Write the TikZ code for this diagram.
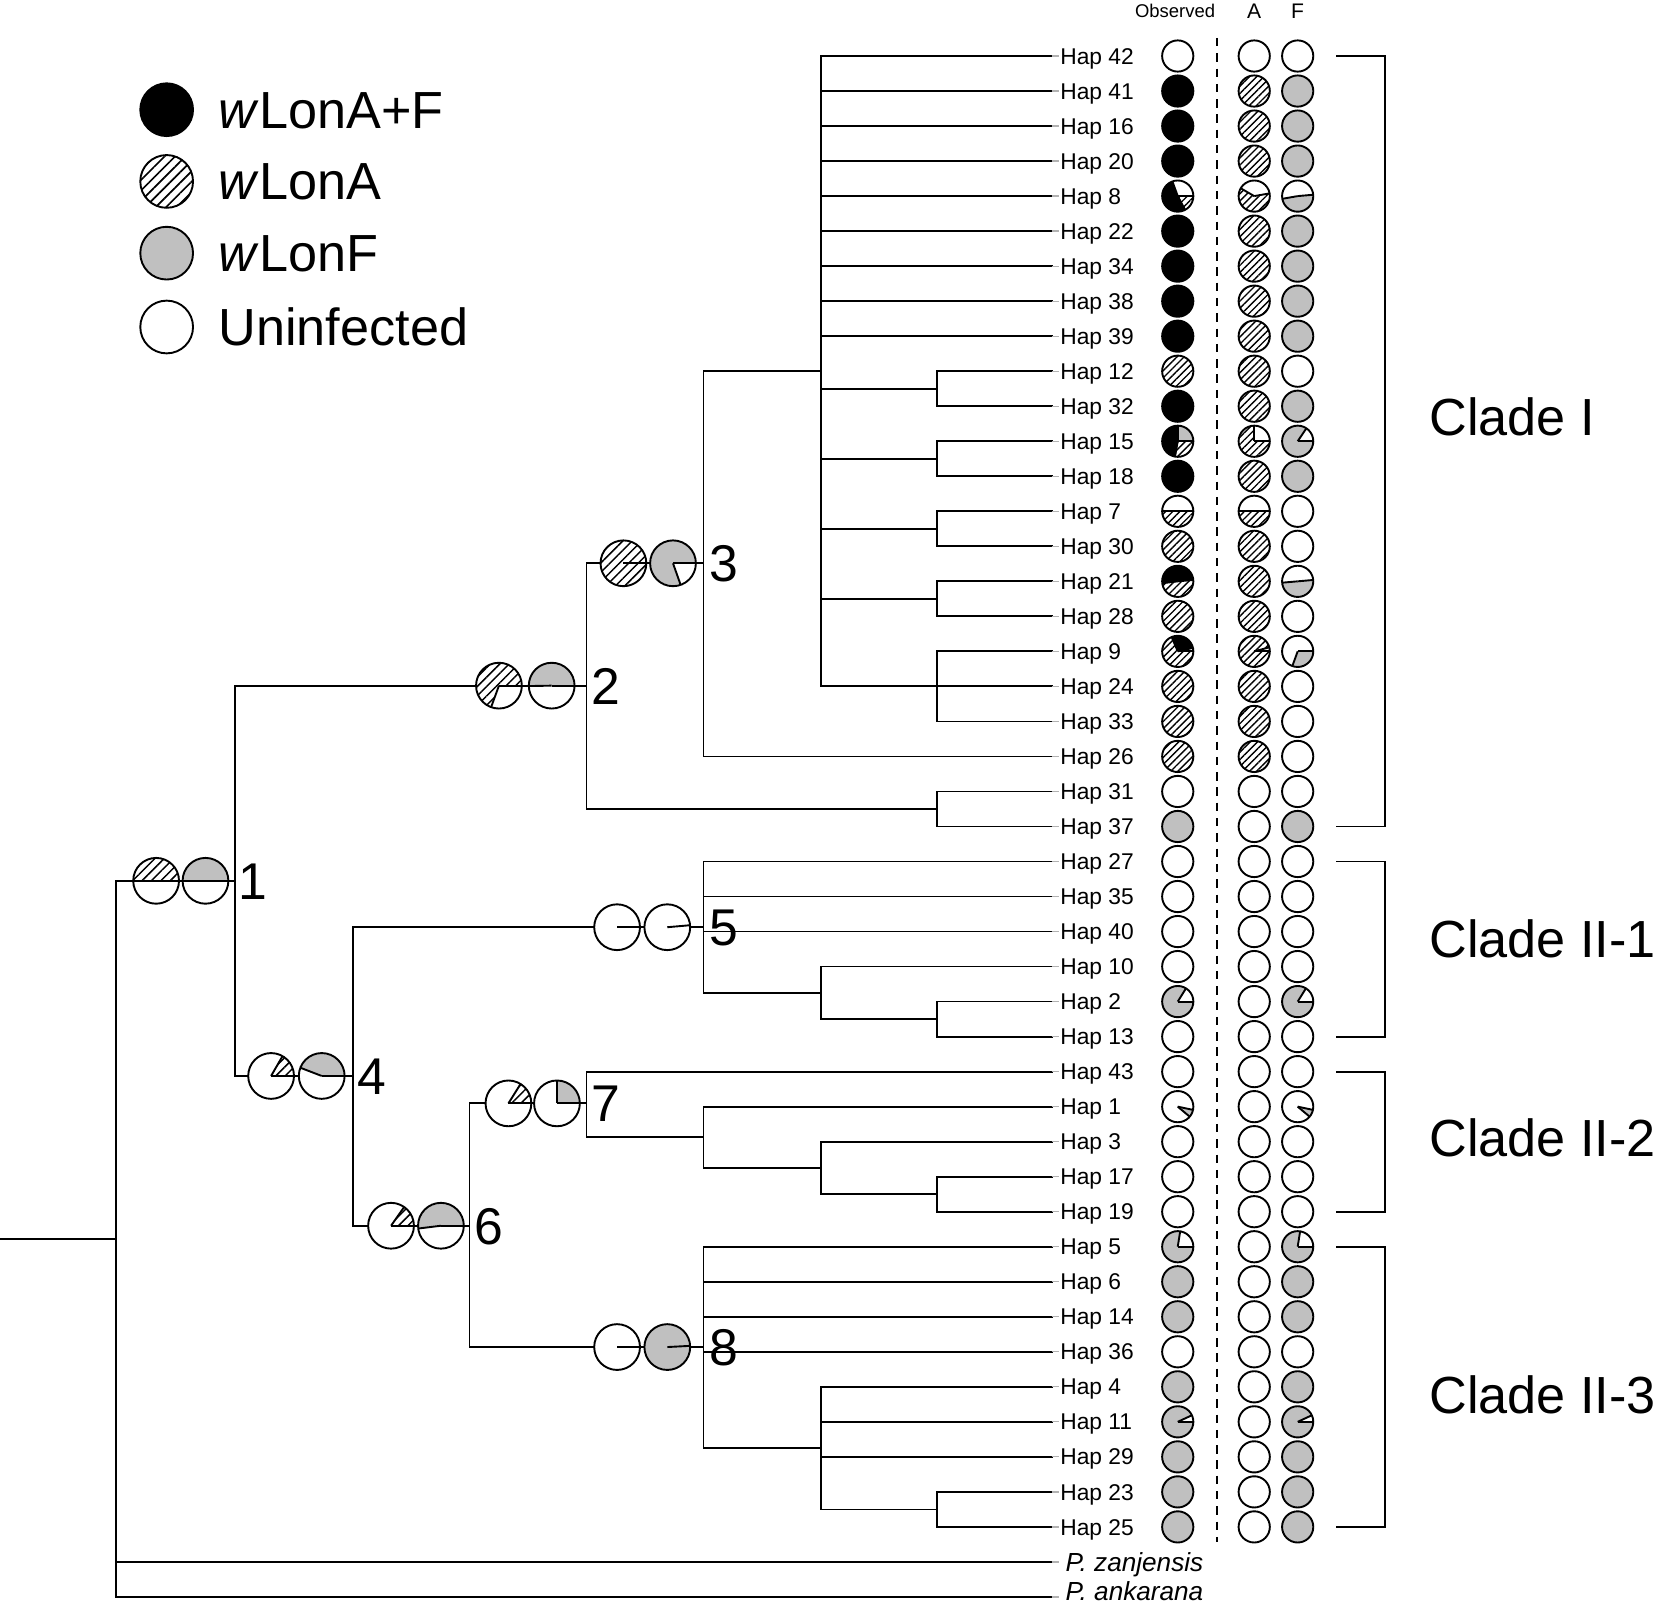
\documentclass[tikz,border=0pt]{standalone}
\usepackage{fontspec}
\setmainfont{Liberation Sans}
\usetikzlibrary{patterns.meta}
\definecolor{pgray}{RGB}{192,192,192}
\newcommand\Y[1]{\csname yy#1\endcsname}
\newcommand\fs[1]{\fontsize{#1}{#1}\selectfont}
\newcommand\FC[4]{\fill[white] (#1,#2) circle[radius=#3]; \fill[#4] (#1,#2) circle[radius=#3]; \draw[pieline] (#1,#2) circle[radius=#3];}
\newcommand\PIE[4]{%
  \fill[white] (#1,#2) circle[radius=#3];
  \foreach \s/\a/\b in {#4}{\fill[\s] (#1,#2) -- ++(\a:#3) arc[start angle=\a, end angle=\b, radius=#3] -- cycle;}
  \foreach \s/\a/\b in {#4}{\draw[pieline] (#1,#2) -- ++(\a:#3);}
  \draw[pieline] (#1,#2) circle[radius=#3];}
\newcommand\HL[3]{\draw[brl] (#1,{-(#3)}) -- (#2,{-(#3)});}
\newcommand\VL[3]{\draw[brl] (#1,{-(#2)}) -- (#1,{-(#3)});}
\newcommand\TIP[2]{\draw[brl] (#1,-\Y{#2}) -- (997,-\Y{#2}); \draw[lead] (997,-\Y{#2}) -- (1004,-\Y{#2});}
\newcommand\MID[2]{(\Y{#1}+\Y{#2})/2}
\begin{document}
\begin{tikzpicture}[x=1pt,y=1pt,
  brl/.style={line width=1.7pt, line cap=rect},
  lead/.style={line width=1.2pt, gray!60},
  pieline/.style={line width=1.8pt},
  blk/.style={fill=black}, gry/.style={fill=pgray}, wht/.style={fill=white},
  hatT/.style={pattern={Lines[angle=45,distance=4.8pt,line width=1.3pt]}},
  hatN/.style={pattern={Lines[angle=45,distance=6.3pt,line width=1.4pt]}},
  hatL/.style={pattern={Lines[angle=45,distance=7pt,line width=1.6pt]}},
  hap/.style={font=\fs{21.6}, anchor=base west, inner sep=0pt},
  spc/.style={font=\fs{24.8}\itshape, anchor=base west, inner sep=0pt},
  num/.style={font=\fs{49}, anchor=base west, inner sep=0pt},
  big/.style={font=\fs{49.5}, anchor=base west, inner sep=0pt},
  head/.style={anchor=base, inner sep=0pt}]
\useasboundingbox (0,0) rectangle (1568,-1522);
\foreach \n [count=\i] in {42,41,16,20,8,22,34,38,39,12,32,15,18,7,30,21,28,9,24,33,26,31,37,27,35,40,10,2,13,43,1,3,17,19,5,6,14,36,4,11,29,23,25,pz,pa}{
  \pgfmathsetmacro\tmp{53.1+33.2*(\i-1)}
  \expandafter\xdef\csname yy\n\endcsname{\tmp}}
% ---------- tree ----------
\HL{0}{110}{1174.5}
\VL{110}{835}{\Y{pa}}
\HL{110}{223}{835}
\TIP{110}{pz} \TIP{110}{pa}
\VL{223}{650}{1020}
% node 2
\HL{223}{556}{650}
\VL{556}{534}{\MID{31}{37}}
\HL{556}{888}{\MID{31}{37}}
\VL{888}{\Y{31}}{\Y{37}}
\TIP{888}{31} \TIP{888}{37}
% node 3
\HL{556}{667}{534}
\VL{667}{\Y{12}}{\Y{26}}
\HL{667}{778}{\Y{12}}
\TIP{667}{26}
\VL{778}{\Y{42}}{\Y{24}}
\foreach \n in {42,41,16,20,8,22,34,38,39}{\TIP{778}{\n}}
\foreach \a/\b in {12/32,15/18,7/30,21/28}{
  \HL{778}{888}{\MID{\a}{\b}} \VL{888}{\Y{\a}}{\Y{\b}} \TIP{888}{\a} \TIP{888}{\b}}
\HL{778}{888}{\Y{24}} \VL{888}{\Y{9}}{\Y{33}}
\TIP{888}{9} \TIP{888}{24} \TIP{888}{33}
% node 4
\HL{223}{335}{1020}
\VL{335}{879}{1162}
% node 5
\HL{335}{667}{879}
\VL{667}{\Y{27}}{941.2}
\TIP{667}{27} \TIP{667}{35} \TIP{667}{40}
\HL{667}{778}{941.2}
\VL{778}{\Y{10}}{\MID{2}{13}}
\TIP{778}{10}
\HL{778}{888}{\MID{2}{13}}
\VL{888}{\Y{2}}{\Y{13}}
\TIP{888}{2} \TIP{888}{13}
% node 6
\HL{335}{445}{1162}
\VL{445}{1046}{1277}
% node 7
\HL{445}{556}{1046}
\VL{556}{\Y{43}}{1078.2}
\TIP{556}{43}
\HL{556}{667}{1078.2}
\VL{667}{\Y{1}}{1107.2}
\TIP{667}{1}
\HL{667}{778}{1107.2}
\VL{778}{\Y{3}}{\MID{17}{19}}
\TIP{778}{3}
\HL{778}{888}{\MID{17}{19}}
\VL{888}{\Y{17}}{\Y{19}}
\TIP{888}{17} \TIP{888}{19}
% node 8
\HL{445}{667}{1277}
\VL{667}{\Y{5}}{1372.8}
\foreach \n in {5,6,14,36}{\TIP{667}{\n}}
\HL{667}{778}{1372.8}
\VL{778}{\Y{4}}{\MID{23}{25}}
\TIP{778}{4} \TIP{778}{11} \TIP{778}{29}
\HL{778}{888}{\MID{23}{25}}
\VL{888}{\Y{23}}{\Y{25}}
\TIP{888}{23} \TIP{888}{25}
% ---------- node pies ----------
\PIE{148}{-835}{21.7}{hatN/0/180, wht/180/360}
\PIE{194.8}{-835}{21.7}{gry/0/180, wht/180/360}
\PIE{473}{-650}{21.7}{hatN/0/250, wht/250/360}
\PIE{523}{-650}{21.7}{gry/0/181, wht/181/360}
\PIE{591}{-534}{21.7}{hatN/0/360}
\PIE{638}{-534}{21.7}{gry/0/289.5, wht/289.5/360}
\PIE{257}{-1020}{21.7}{hatN/0/60, wht/60/360}
\PIE{305}{-1020}{21.7}{gry/0/159, wht/159/360}
\PIE{585}{-879}{21.7}{wht/0/360}
\PIE{632.6}{-879}{21.7}{wht/5/365}
\PIE{370.7}{-1162}{21.7}{hatN/0/55, wht/55/360}
\PIE{418}{-1162}{21.7}{gry/0/187, wht/187/360}
\PIE{482}{-1046}{21.7}{hatN/0/58, wht/58/360}
\PIE{528}{-1046}{21.7}{gry/0/90, wht/90/360}
\PIE{585}{-1277}{21.7}{wht/0/360}
\PIE{632.6}{-1277}{21.7}{gry/3/363}
% node numbers
\node[num] (n1) at (226,-852.5) {1};
\node[num] (n2) at (561,-667.5) {2};
\node[num] (n3) at (672,-551.5) {3};
\node[num] (n4) at (339,-1037.5) {4};
\node[num] (n5) at (672,-896.5) {5};
\node[num] (n6) at (450,-1179.5) {6};
\node[num] (n7) at (561,-1063.5) {7};
\node[num] (n8) at (672,-1294.5) {8};
% ---------- labels ----------
\foreach \n in {42,41,16,20,8,22,34,38,39,12,32,15,18,7,30,21,28,9,24,33,26,31,37,27,35,40,10,2,13,43,1,3,17,19,5,6,14,36,4,11,29,23,25}{
  \node[hap] (hap\n) at (1005,{-\Y{\n}-7.7}) {Hap \n};}
\node[spc] (pz) at (1010,{-\Y{pz}-8.6}) {P. zanjensis};
\node[spc] (pa) at (1010,-1517.5) {P. ankarana};
\node[head, font=\fs{17.5}] (obs) at (1114,-17) {Observed};
\node[head, font=\fs{20}] (colA) at (1189,-18) {A};
\node[head, font=\fs{20}] (colF) at (1230.2,-18) {F};
\draw[line width=1.8pt, dash pattern=on 8pt off 6.5pt] (1153.5,-36) -- (1153.5,-1462);
% ---------- tip circles ----------
\foreach \n/\o/\a/\f in {42/wht/wht/wht,41/blk/hatT/gry,16/blk/hatT/gry,20/blk/hatT/gry,22/blk/hatT/gry,34/blk/hatT/gry,38/blk/hatT/gry,39/blk/hatT/gry,12/hatT/hatT/wht,32/blk/hatT/gry,18/blk/hatT/gry,30/hatT/hatT/wht,28/hatT/hatT/wht,24/hatT/hatT/wht,33/hatT/hatT/wht,26/hatT/hatT/wht,31/wht/wht/wht,37/gry/wht/gry,27/wht/wht/wht,35/wht/wht/wht,40/wht/wht/wht,10/wht/wht/wht,13/wht/wht/wht,43/wht/wht/wht,3/wht/wht/wht,17/wht/wht/wht,19/wht/wht/wht,36/wht/wht/wht,6/gry/wht/gry,14/gry/wht/gry,4/gry/wht/gry,29/gry/wht/gry,23/gry/wht/gry,25/gry/wht/gry}{
  \FC{1116.5}{-\Y{\n}}{14.8}{\o}
  \FC{1189}{-\Y{\n}}{14.8}{\a}
  \FC{1230.2}{-\Y{\n}}{14.8}{\f}}
% Hap 8
\PIE{1116.5}{-\Y{8}}{14.8}{wht/0/110, blk/110/298, hatT/298/360}
\PIE{1189}{-\Y{8}}{14.8}{wht/10/150, hatT/150/370}
\PIE{1230.2}{-\Y{8}}{14.8}{wht/5/190, gry/190/365}
% Hap 15
\PIE{1116.5}{-\Y{15}}{14.8}{gry/0/90, blk/90/260, hatT/260/360}
\PIE{1189}{-\Y{15}}{14.8}{wht/0/90, hatT/90/360}
\PIE{1230.2}{-\Y{15}}{14.8}{wht/0/56, gry/56/360}
% Hap 7
\PIE{1116.5}{-\Y{7}}{14.8}{wht/0/180, hatT/180/360}
\PIE{1189}{-\Y{7}}{14.8}{wht/0/180, hatT/180/360}
\FC{1230.2}{-\Y{7}}{14.8}{wht}
% Hap 21
\PIE{1116.5}{-\Y{21}}{14.8}{blk/5/187, hatT/187/365}
\FC{1189}{-\Y{21}}{14.8}{hatT}
\PIE{1230.2}{-\Y{21}}{14.8}{wht/5/185, gry/185/365}
% Hap 9
\PIE{1116.5}{-\Y{9}}{14.8}{wht/0/13, blk/13/113, hatT/113/360}
\PIE{1189}{-\Y{9}}{14.8}{wht/0/15, hatT/15/360}
\PIE{1230.2}{-\Y{9}}{14.8}{wht/0/250, gry/250/360}
% Hap 2
\PIE{1116.5}{-\Y{2}}{14.8}{wht/0/58, gry/58/360}
\FC{1189}{-\Y{2}}{14.8}{wht}
\PIE{1230.2}{-\Y{2}}{14.8}{wht/0/58, gry/58/360}
% Hap 1
\PIE{1116.5}{-\Y{1}}{14.8}{gry/-40/-12, wht/-12/320}
\FC{1189}{-\Y{1}}{14.8}{wht}
\PIE{1230.2}{-\Y{1}}{14.8}{gry/-40/-12, wht/-12/320}
% Hap 5
\PIE{1116.5}{-\Y{5}}{14.8}{wht/0/81, gry/81/360}
\FC{1189}{-\Y{5}}{14.8}{wht}
\PIE{1230.2}{-\Y{5}}{14.8}{wht/0/81, gry/81/360}
% Hap 11
\PIE{1116.5}{-\Y{11}}{14.8}{wht/0/25, gry/25/360}
\FC{1189}{-\Y{11}}{14.8}{wht}
\PIE{1230.2}{-\Y{11}}{14.8}{wht/0/25, gry/25/360}
% ---------- clade brackets ----------
\draw[brl] (1267,-\Y{42}) -- (1313,-\Y{42}) -- (1313,-\Y{37}) -- (1267,-\Y{37});
\draw[brl] (1267,-\Y{27}) -- (1313,-\Y{27}) -- (1313,-\Y{13}) -- (1267,-\Y{13});
\draw[brl] (1267,-\Y{43}) -- (1313,-\Y{43}) -- (1313,-\Y{19}) -- (1267,-\Y{19});
\draw[brl] (1267,-\Y{5}) -- (1313,-\Y{5}) -- (1313,-\Y{25}) -- (1267,-\Y{25});
\node[big] (cI) at (1355,-413) {Clade I};
\node[big] (cII1) at (1355,-908) {Clade II-1};
\node[big] (cII2) at (1355,-1096) {Clade II-2};
\node[big] (cII3) at (1355,-1340) {Clade II-3};
% ---------- legend ----------
\FC{158}{-104}{25}{blk}
\FC{158}{-172}{25}{hatL}
\FC{158}{-240}{25}{gry}
\FC{158}{-310}{25}{wht}
\node[big] (lg1) at (207,-121.5) {\textit{w}LonA+F};
\node[big] (lg2) at (207,-189.5) {\textit{w}LonA};
\node[big] (lg3) at (207,-257.5) {\textit{w}LonF};
\node[big] (lg4) at (207,-327.5) {Uninfected};
\end{tikzpicture}
\end{document}
